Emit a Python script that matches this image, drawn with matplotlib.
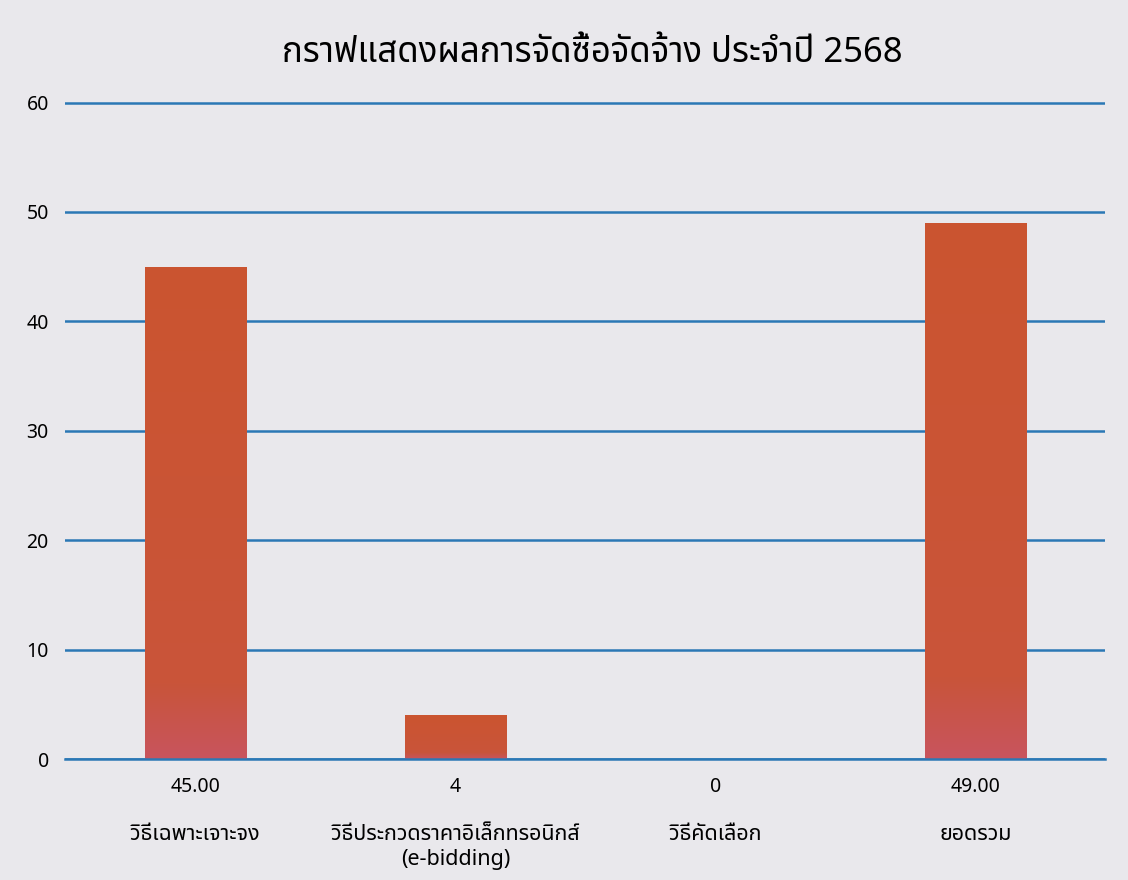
import numpy as np
import matplotlib
matplotlib.use("Agg")
import matplotlib.pyplot as plt
from matplotlib.colors import LinearSegmentedColormap

# data
categories = ["วิธีเฉพาะเจาะจง", "วิธีประกวดราคาอิเล็กทรอนิกส์\n(e-bidding)", "วิธีคัดเลือก", "ยอดรวม"]
values = [45, 4, 0, 49]
value_labels = ["45.00", "4", "0", "49.00"]
title = "กราฟแสดงผลการจัดซื้อจัดจ้าง ประจำปี 2568"

fonts = ["Noto Sans", "Noto Sans Thai", "DejaVu Sans"]
bg = "#e9e8ec"
grid_blue = "#2b78b5"

fig = plt.figure(figsize=(11.28, 8.8), dpi=100, facecolor=bg)
ax = fig.add_axes([0.058, 0.1375, 0.922, 0.7485], facecolor=bg)

x = np.arange(len(categories))
bars = ax.bar(x, values, width=0.39, color="#c9532f", zorder=3)

# gradient fill like the office chart (orange body, a bit pinker at the base)
cmap = LinearSegmentedColormap.from_list(
    "bar", [(0.0, "#c8545e"), (0.15, "#c9553a"), (1.0, "#cb5430")])
grad = np.linspace(0, 1, 256).reshape(-1, 1)
for b in bars:
    if b.get_height() <= 0:
        continue
    x0, w, h = b.get_x(), b.get_width(), b.get_height()
    im = ax.imshow(grad, cmap=cmap, aspect="auto", origin="lower",
                   extent=[x0, x0 + w, 0, h], zorder=3)
    im.set_clip_path(b)

ax.set_xlim(-0.5, len(categories) - 0.5)
ax.set_ylim(0, 60.2)
ax.set_yticks(np.arange(0, 61, 10))
ax.yaxis.grid(True, color=grid_blue, linewidth=1.8, zorder=1)
ax.set_axisbelow(True)
for s in ax.spines.values():
    s.set_visible(False)
ax.tick_params(axis="y", length=0, pad=12, labelsize=14)
ax.set_xticks([])
for lab in ax.get_yticklabels():
    lab.set_family(fonts)
ax.axhline(0, color=grid_blue, linewidth=1.8, zorder=4, clip_on=False)

# data table style labels under the axis
for i, (v, c) in enumerate(zip(value_labels, categories)):
    ax.text(i, -2.6, v, ha="center", va="center", fontsize=14, family=fonts)
    ax.text(i, -5.9, c, ha="center", va="top", fontsize=15.5, family=fonts,
            linespacing=1.3)

fig.text(0.525, 0.94, title, ha="center", va="center", fontsize=25, family=fonts)

fig.savefig("out.png", facecolor=bg)
